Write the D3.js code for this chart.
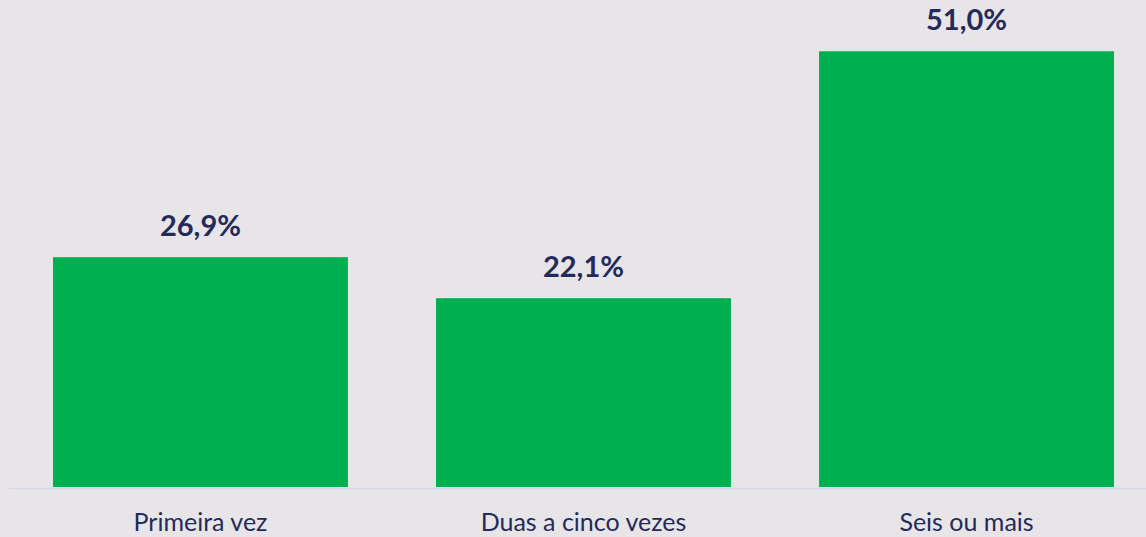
<!DOCTYPE html>
<html>
<head>
<meta charset="utf-8">
<script src="https://cdn.jsdelivr.net/npm/d3@7"></script>
<style>
  html,body{margin:0;padding:0;background:#e7e5e8;}
  svg{display:block;}
</style>
</head>
<body>
<div id="grafico"></div>
<script>
// data
const categories=["Primeira vez","Duas a cinco vezes","Seis ou mais"];
const values=[26.9,22.1,51.0];
const valueLabels=["26,9%","22,1%","51,0%"];

const W=1146, H=537;
const baseY=487;

let svg=d3.select("#grafico")
  .append("svg")
  .attr("width",W)
  .attr("height",H);

svg.append("rect")
  .attr("width",W).attr("height",H)
  .attr("fill","#e7e5e8");

// x scale
let x=d3.scaleBand()
  .domain(categories)
  .range([21,1146])
  .paddingInner(0.23)
  .paddingOuter(0.0836);

// y scale
let y=d3.scaleLinear()
  .domain([0,57])
  .range([baseY,0]);

// bars
svg.selectAll("rect.bar")
  .data(values)
  .enter()
  .append("rect")
    .attr("class","bar")
    .attr("x",(d,i)=>x(categories[i]))
    .attr("y",d=>y(d))
    .attr("width",x.bandwidth())
    .attr("height",d=>baseY-y(d))
    .attr("fill","#00af50");

// baseline
svg.append("line")
  .attr("x1",9).attr("x2",W)
  .attr("y1",baseY+1.5).attr("y2",baseY+1.5)
  .attr("stroke","#d5d6ec")
  .attr("stroke-width",1.5);

// value labels
svg.selectAll("text.valor")
  .data(values)
  .enter()
  .append("text")
    .attr("class","valor")
    .attr("x",(d,i)=>x(categories[i])+x.bandwidth()/2)
    .attr("y",d=>y(d)-21)
    .attr("text-anchor","middle")
    .style("font-family","Lato, 'Open Sans', sans-serif")
    .style("font-weight","bold")
    .style("font-size","29px")
    .attr("fill","#262a5a")
    .text((d,i)=>valueLabels[i]);

// category labels
svg.selectAll("text.cat")
  .data(categories)
  .enter()
  .append("text")
    .attr("class","cat")
    .attr("x",d=>x(d)+x.bandwidth()/2)
    .attr("y",531)
    .attr("text-anchor","middle")
    .style("font-family","Lato, 'Open Sans', sans-serif")
    .style("font-size","25px")
    .attr("fill","#262a5a")
    .text(d=>d);
</script>
</body>
</html>
